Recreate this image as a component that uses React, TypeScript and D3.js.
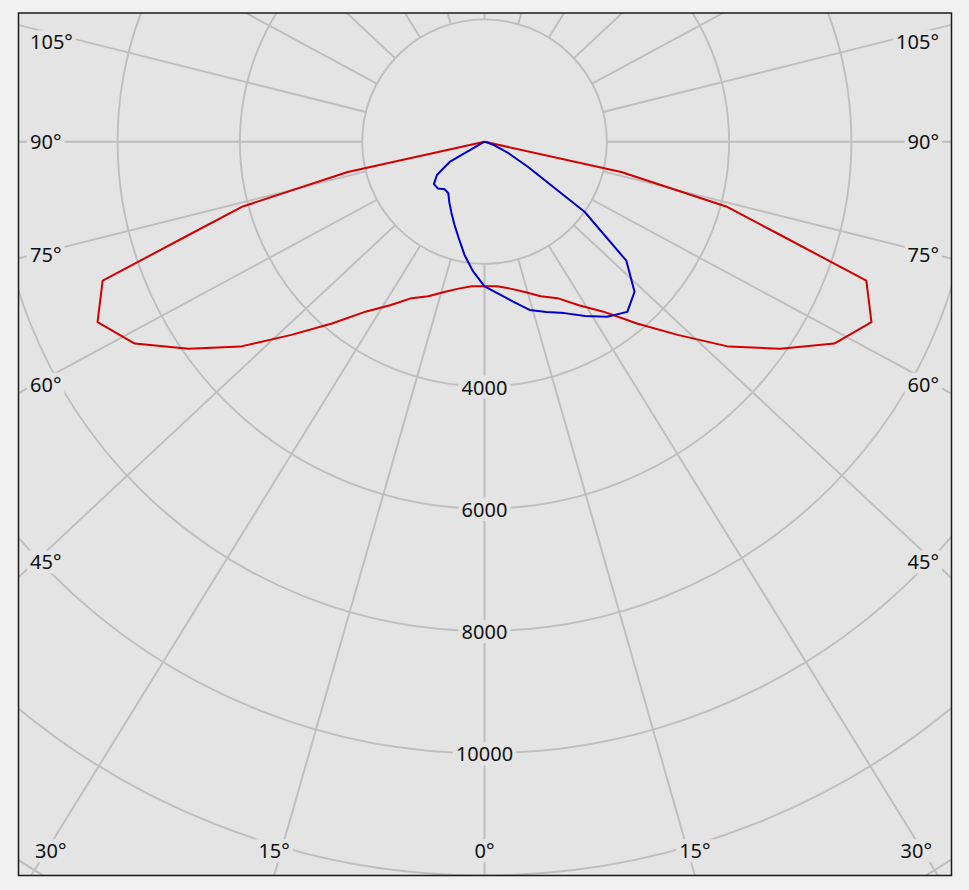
import React, { useEffect, useRef } from "react";
import * as d3 from "d3";

// ---- data (luminous intensity, cd) ----
const redAngles = [0, 5, 10, 15, 20, 25, 30, 35, 40, 45, 50, 55, 60, 65, 70, 72.5, 75, 77.5, 80, 85, 90];
const redValues = [2365, 2372, 2440, 2545, 2690, 2823, 3087, 3393, 3880, 4468, 5213, 5905, 6604, 6982, 6645, 5074, 4092, 2291, 0, 0, 0];

const blueAngles = [0, 5, 10, 15, 20, 25, 30, 35, 40, 45, 50, 55, 60, 65, 70, 75, 80, 85, 90];
const blueLeftValues = [2365, 2130, 1880, 1630, 1440, 1280, 1150, 1030, 1015, 1080, 1080, 950, 650, 0, 0, 0, 0, 0, 0];
const blueRightValues = [2365, 2488, 2651, 2848, 2962, 3093, 3290, 3494, 3633, 3470, 3028, 1997, 818, 409, 164, 49, 0, 0, 0];

const ringValues = [2000, 4000, 6000, 8000, 10000, 12000, 14000, 16000];
const ringLabels = [4000, 6000, 8000, 10000];
const spokeAngles = d3.range(0, 360, 15);
const angleLabels = [0, 15, 30, 45, 60, 75, 90, 105];

const W = 969;
const H = 890;

export default function App() {
  const ref = useRef<SVGSVGElement | null>(null);

  useEffect(() => {
    const svg = d3.select(ref.current);
    svg.selectAll("*").remove();

    const box = { x0: 18.5, y0: 13, x1: 951.5, y1: 875.5 };
    const cx = 484.5;
    const cy = 141.7;
    const k = 1.07; // horizontal stretch of spokes
    const bg = "#e4e4e4";
    const grid = "#bebebe";
    const font = "'Noto Sans', 'Open Sans', sans-serif";

    const r = d3.scaleLinear().domain([0, 12000]).range([0, 733.8]);

    svg.append("rect").attr("x", 0).attr("y", 0).attr("width", W).attr("height", H).attr("fill", "#f0f0f0");
    svg.append("rect")
      .attr("x", box.x0).attr("y", box.y0)
      .attr("width", box.x1 - box.x0).attr("height", box.y1 - box.y0)
      .attr("fill", bg);

    const defs = svg.append("defs");
    defs.append("clipPath").attr("id", "plotclip")
      .append("rect")
      .attr("x", box.x0).attr("y", box.y0)
      .attr("width", box.x1 - box.x0).attr("height", box.y1 - box.y0);

    const plot = svg.append("g").attr("clip-path", "url(#plotclip)");
    const g = plot.append("g").attr("transform", `translate(${cx},${cy})`);

    // rings
    g.selectAll("circle.ring")
      .data(ringValues)
      .join("circle")
      .attr("class", "ring")
      .attr("r", (d) => r(d))
      .attr("fill", "none")
      .attr("stroke", grid)
      .attr("stroke-width", 1.9);

    // spokes
    const r0 = r(2000);
    g.selectAll("line.spoke")
      .data(spokeAngles)
      .join("line")
      .attr("class", "spoke")
      .each(function (a) {
        const t = (a * Math.PI) / 180;
        let dx = k * Math.sin(t);
        let dy = Math.cos(t);
        const n = Math.hypot(dx, dy);
        dx /= n;
        dy /= n;
        d3.select(this)
          .attr("x1", r0 * dx).attr("y1", r0 * dy)
          .attr("x2", 2000 * dx).attr("y2", 2000 * dy);
      })
      .attr("stroke", grid)
      .attr("stroke-width", 1.9);

    // label helper with background mask
    const labelLayer = plot.append("g");
    const addLabel = (text: string, x: number, y: number, anchor: string, clamp?: [number, number]) => {
      const grp = labelLayer.append("g");
      const rect = grp.append("rect").attr("fill", bg);
      const t = grp.append("text")
        .attr("x", x).attr("y", y)
        .attr("dy", "0.36em")
        .attr("text-anchor", anchor)
        .attr("font-family", font)
        .attr("font-size", 20)
        .attr("fill", "#111")
        .text(text);
      let bb = (t.node() as SVGTextElement).getBBox();
      if (clamp) {
        if (bb.x < clamp[0]) {
          t.attr("x", x + (clamp[0] - bb.x));
        } else if (bb.x + bb.width > clamp[1]) {
          t.attr("x", x - (bb.x + bb.width - clamp[1]));
        }
        bb = (t.node() as SVGTextElement).getBBox();
      }
      rect.attr("x", bb.x - 3).attr("y", bb.y + 2).attr("width", bb.width + 6).attr("height", bb.height - 4);
    };

    // radius labels
    ringLabels.forEach((v) => addLabel(String(v), cx, cy + r(v) + 1, "middle"));

    // angle labels
    angleLabels.forEach((a) => {
      const t = (a * Math.PI) / 180;
      if (a <= 30) {
        const off = (box.y1 - cy) * Math.tan(t) * k;
        if (a === 0) {
          addLabel("0°", cx, 851, "middle");
        } else {
          addLabel(`${a}°`, cx - off, 851, "middle", [35, 932]);
          addLabel(`${a}°`, cx + off, 851, "middle", [35, 932]);
        }
      } else {
        let y = cy + 450 / (Math.tan(t) * k);
        if (a === 90) y = cy;
        y = Math.max(y, 42);
        addLabel(`${a}°`, 30, y, "start");
        addLabel(`${a}°`, 939, y, "end");
      }
    });

    // curves
    type P = { theta: number; v: number };
    const line = d3.lineRadial<P>()
      .angle((d) => Math.PI - (d.theta * Math.PI) / 180)
      .radius((d) => r(d.v))
      .curve(d3.curveLinear);

    const redPts: P[] = [];
    for (let i = redAngles.length - 1; i >= 0; i--) redPts.push({ theta: -redAngles[i], v: redValues[i] });
    for (let i = 1; i < redAngles.length; i++) redPts.push({ theta: redAngles[i], v: redValues[i] });

    const bluePts: P[] = [];
    for (let i = blueAngles.length - 1; i >= 0; i--) bluePts.push({ theta: -blueAngles[i], v: blueLeftValues[i] });
    for (let i = 1; i < blueAngles.length; i++) bluePts.push({ theta: blueAngles[i], v: blueRightValues[i] });

    g.append("path")
      .attr("d", line(redPts) as string)
      .attr("fill", "none")
      .attr("stroke", "#d40000")
      .attr("stroke-width", 2)
      .attr("stroke-linejoin", "round");

    g.append("path")
      .attr("d", line(bluePts) as string)
      .attr("fill", "none")
      .attr("stroke", "#0000c8")
      .attr("stroke-width", 2)
      .attr("stroke-linejoin", "round");

    // border
    svg.append("rect")
      .attr("x", box.x0).attr("y", box.y0)
      .attr("width", box.x1 - box.x0).attr("height", box.y1 - box.y0)
      .attr("fill", "none")
      .attr("stroke", "#1a1a1a")
      .attr("stroke-width", 1.5);
  }, []);

  return (
    <svg
      ref={ref}
      width={W}
      height={H}
      style={{ position: "absolute", left: 0, top: 0, display: "block" }}
    />
  );
}
